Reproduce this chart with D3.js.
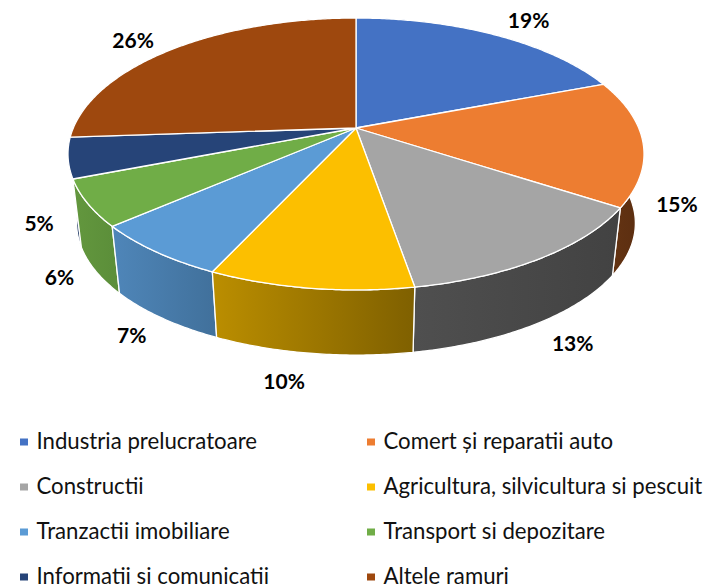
<!DOCTYPE html>
<html>
<head>
<meta charset="utf-8">
<script src="https://cdn.jsdelivr.net/npm/d3@7/dist/d3.min.js"></script>
<style>
  html, body { margin: 0; padding: 0; background: #fff; overflow: hidden; }
  svg { display: block; font-family: Lato, sans-serif; }
</style>
</head>
<body>
<svg id="chart" width="705" height="584"></svg>
<script>
const categories = [
  'Industria prelucratoare', 'Comert și reparatii auto', 'Constructii',
  'Agricultura, silvicultura si pescuit', 'Tranzactii imobiliare',
  'Transport si depozitare', 'Informatii si comunicatii', 'Altele ramuri'
];
const shares = [19.2, 15.0, 13.1, 9.6, 6.7, 5.5, 4.8, 26.1];

const topColors = ['#4472c4', '#ed7d31', '#a5a5a5', '#fcbf00', '#5b9bd5', '#70ad47', '#264478', '#9e480e'];
const wallFrom = ['#2f5597', '#663513', '#4f4f4f', '#bb8e00', '#4f86b9', '#63973e', '#2b4f8c', '#7a370b'];
const wallTo = ['#2f5597', '#5a2d10', '#424242', '#7f6000', '#41719c', '#5c8f3a', '#203864', '#7a370b'];
const labelOffsets = [[34, -14], [34, 62], [32, 85], [-26, 93], [-24, 84], [-28, 74], [-29, 66], [-40, -8]];

const svg = d3.select('#chart');
const defs = svg.append('defs');

// perspective disc: apex is not the ellipse centre, near side looks bigger
const cx = 356, apexY = 128, k = 0.191, bx = 282.7, by = 131;
const bottomApexY = 198, bottomScale = 0.97;

function project(a, r, level) {
  const u = Math.sin(a) * r, v = -Math.cos(a) * r, d = 1 - k * v;
  const s = level ? bottomScale : 1;
  return [cx + s * bx * u / d, (level ? bottomApexY : apexY) + s * by * v / d];
}

const arcs = d3.pie().sort(null).value(d => d)(shares);
const line = d3.line();

function rim(d, level) {
  const n = Math.max(2, Math.ceil((d.endAngle - d.startAngle) / 0.01));
  return d3.range(n + 1).map(i => project(d.startAngle + (d.endAngle - d.startAngle) * i / n, 1, level));
}

// walls, back ones first so the front ones paint over
const wallOrder = arcs.slice().sort((a, b) => {
  const ma = (a.startAngle + a.endAngle) / 2, mb = (b.startAngle + b.endAngle) / 2;
  return Math.cos(mb) - Math.cos(ma);
});

wallOrder.forEach(d => {
  const top = rim(d, 0), bottom = rim(d, 1).reverse();
  const xs = top.map(p => p[0]);
  const id = 'wall' + d.index;
  const grad = defs.append('linearGradient').attr('id', id)
    .attr('gradientUnits', 'userSpaceOnUse')
    .attr('x1', d3.min(xs)).attr('x2', d3.max(xs)).attr('y1', 0).attr('y2', 0);
  grad.append('stop').attr('offset', 0).attr('stop-color', wallFrom[d.index]);
  grad.append('stop').attr('offset', 1).attr('stop-color', wallTo[d.index]);
  svg.append('path')
    .attr('d', line(top.concat(bottom)) + 'Z')
    .attr('fill', `url(#${id})`)
    .attr('stroke', '#fff')
    .attr('stroke-width', 1.3)
    .attr('stroke-linejoin', 'round');
});

// top face
svg.append('g').selectAll('path')
  .data(arcs)
  .enter()
  .append('path')
  .attr('d', d => line([[cx, apexY]].concat(rim(d, 0))) + 'Z')
  .attr('fill', d => topColors[d.index])
  .attr('stroke', '#fff')
  .attr('stroke-width', 1.3)
  .attr('stroke-linejoin', 'round');

// percentage labels
svg.append('g').selectAll('text')
  .data(arcs)
  .enter()
  .append('text')
  .attr('x', d => project((d.startAngle + d.endAngle) / 2, 1, 0)[0] + labelOffsets[d.index][0])
  .attr('y', d => project((d.startAngle + d.endAngle) / 2, 1, 0)[1] + labelOffsets[d.index][1])
  .attr('dy', '0.35em')
  .attr('text-anchor', 'middle')
  .style('font-size', '21px')
  .style('font-weight', '700')
  .style('fill', '#000')
  .text(d => Math.round(d.data) + '%');

// legend, two columns
const legendX = d3.scalePoint().domain([0, 1]).range([20, 367]);
const legendY = d3.scalePoint().domain([0, 1, 2, 3]).range([442, 577]);
const legend = svg.append('g').selectAll('g')
  .data(categories)
  .enter()
  .append('g')
  .attr('transform', (d, i) => `translate(${legendX(i % 2)},${legendY(Math.floor(i / 2))})`);

legend.append('rect')
  .attr('x', 0).attr('y', -3.5)
  .attr('width', 8).attr('height', 7)
  .attr('fill', (d, i) => topColors[i]);

legend.append('text')
  .attr('x', 16.5)
  .attr('y', 7)
  .style('font-size', '22.2px')
  .style('fill', '#111')
  .text(d => d);
</script>
</body>
</html>
